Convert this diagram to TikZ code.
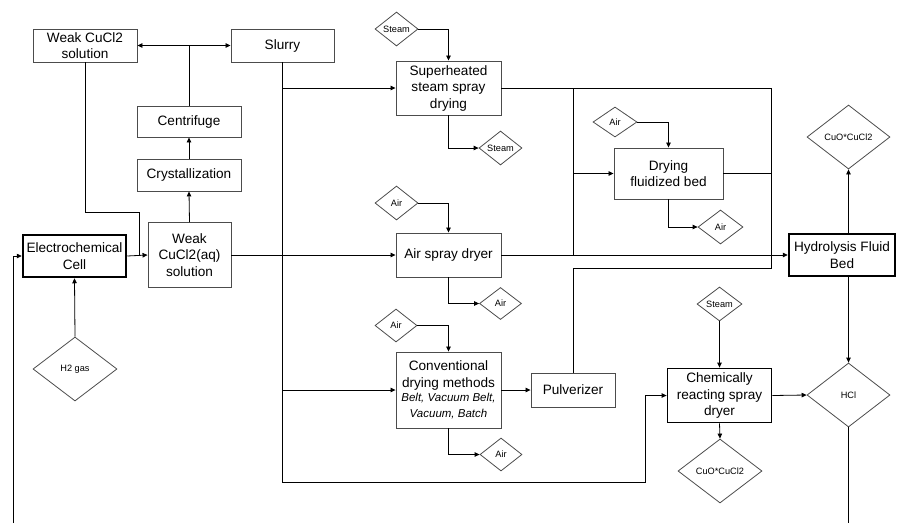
\documentclass[tikz,border=0pt]{standalone}
\usepackage{fontspec}
\setmainfont{Liberation Sans}
\usetikzlibrary{shapes.geometric,arrows.meta}

\newcommand{\boxfont}{\fontsize{13.6}{16.5}\selectfont}
\newcommand{\tagfont}{\fontsize{9.2}{11}\selectfont}
\newcommand{\smallit}[1]{\textit{\fontsize{11.5}{16}\selectfont #1}}

\tikzset{
  procbox/.style={draw=black!70, line width=0.9pt, rectangle, align=center,
    inner sep=1pt, font=\boxfont},
  keybox/.style={procbox, draw=black, line width=2.5pt},
  tagdiamond/.style={draw=black!70, line width=0.8pt, diamond, aspect=1.3,
    inner sep=0pt, font=\tagfont},
  flow/.style={draw=black, line width=0.8pt, -{Triangle[length=5pt,width=4.5pt]}},
  pipe/.style={draw=black, line width=0.8pt}
}

\begin{document}
\begin{tikzpicture}[x=1pt,y=-1pt]
\useasboundingbox (0,0) rectangle (897,523);

\node[procbox, minimum width=104, minimum height=33] (wsol) at (85,45.5) {Weak CuCl2\\[-1pt]solution};
\node[procbox, minimum width=103, minimum height=33] (slurry) at (282.5,45.5) {Slurry};
\node[procbox, minimum width=104, minimum height=31] (centr) at (189,121.5) {Centrifuge};
\node[procbox, minimum width=104, minimum height=32] (cryst) at (189,175) {Crystallization};
\node[procbox, minimum width=83, minimum height=65] (waq) at (189.5,255) {Weak\\CuCl2(aq)\\solution};
\node[keybox, minimum width=103, minimum height=42] (ecell) at (74.5,256) {Electrochemical\\Cell};
\node[tagdiamond, minimum width=84, minimum height=64] (h2) at (75,369) {H2 gas};

\node[procbox, minimum width=105, minimum height=54] (sh) at (448.5,88) {Superheated\\steam spray\\drying};
\node[tagdiamond, minimum width=43, minimum height=34] (steamA) at (396.5,29) {Steam};
\node[tagdiamond, minimum width=43, minimum height=34] (steamB) at (500.5,148) {Steam};

\node[procbox, minimum width=105, minimum height=44] (asd) at (448.5,255) {Air spray dryer};
\node[tagdiamond, minimum width=43, minimum height=34] (airA) at (396.5,203) {Air};
\node[tagdiamond, minimum width=42, minimum height=32] (airB) at (500.5,303.5) {Air};

\node[procbox, minimum width=105, minimum height=76] (conv) at (448.5,390) {Conventional\\drying methods\\[-2pt]\smallit{Belt, Vacuum Belt,}\\[-1pt]\smallit{Vacuum, Batch}};
\node[tagdiamond, minimum width=42, minimum height=33] (airC) at (396,325.5) {Air};
\node[tagdiamond, minimum width=42, minimum height=33] (airD) at (501,454.5) {Air};
\node[procbox, minimum width=84, minimum height=34] (pulv) at (573,390) {Pulverizer};

\node[procbox, minimum width=109, minimum height=51] (dfb) at (668.5,173.5) {Drying\\fluidized bed};
\node[tagdiamond, minimum width=44, minimum height=30] (airE) at (615,122) {Air};
\node[tagdiamond, minimum width=45, minimum height=34] (airF) at (720.5,227) {Air};

\node[keybox, minimum width=106, minimum height=42] (hyd) at (842,255) {Hydrolysis Fluid\\Bed};
\node[tagdiamond, minimum width=83, minimum height=64] (cuoA) at (848.5,137) {CuO*CuCl2};
\node[tagdiamond, minimum width=83, minimum height=64] (hcl) at (848.5,395) {HCl};

\node[procbox, draw=black, line width=1.8pt, minimum width=104, minimum height=54] (crsd) at (719.5,395.5) {Chemically\\reacting spray\\dryer};
\node[tagdiamond, minimum width=45, minimum height=34] (steamC) at (719.5,304) {Steam};
\node[tagdiamond, minimum width=84, minimum height=64] (cuoB) at (720,471) {CuO*CuCl2};

\coordinate (j1) at (139,212);
\coordinate (cj) at (189,45.5);
\coordinate (s1) at (282.5,482);
\coordinate (s2) at (645,482);
\coordinate (l1) at (573,88);
\coordinate (l2) at (573,255);
\coordinate (r1) at (771,88);
\coordinate (r2) at (771,268);
\coordinate (fb) at (13,523);
\coordinate (hb) at (848.5,523);

% crystallizer loop
\draw[pipe] (wsol.south) |- (j1) -- (j1 |- waq.west);
\draw[flow] (ecell.east) -- (waq.west);
\draw[flow] (waq.north) -- (cryst.south);
\draw[flow] (cryst.north) -- (centr.south);
\draw[pipe] (centr.north) -- (cj);
\draw[flow] (cj) -- (wsol.east);
\draw[flow] (cj) -- (slurry.west);
\draw[flow] (h2.north) -- (ecell.south);
\draw[flow] (fb) |- (ecell.west);

% slurry to the dryers
\draw[flow] (slurry.south) -- (s1) -- (s2) |- (crsd.west);
\draw[flow] (slurry.south |- sh.west) -- (sh.west);
\draw[flow] (slurry.south |- conv.west) -- (conv.west);
\draw[flow] (waq.east) -- (asd.west);

\draw[flow] (steamA.east) -| (sh.north);
\draw[flow] (sh.south) |- (steamB.west);
\draw[flow] (airA.east) -| (asd.north);
\draw[flow] (asd.south) |- (airB.west);
\draw[flow] (airC.east) -| (conv.north);
\draw[flow] (conv.south) |- (airD.west);
\draw[flow] (conv.east) -- (pulv.west);

% fluidized bed
\draw[pipe] (sh.east) -- (r1) -- (r2) -| (pulv.north);
\draw[pipe] (l1) -- (l2);
\draw[flow] (l1 |- dfb.west) -- (dfb.west);
\draw[pipe] (dfb.east) -- (r1 |- dfb.east);
\draw[flow] (airE.east) -| (dfb.north);
\draw[flow] (dfb.south) |- (airF.west);

% hydrolysis
\draw[flow] (asd.east) -- (hyd.west);
\draw[flow] (cuoA.south |- hyd.north) -- (cuoA.south);
\draw[flow] (hcl.north |- hyd.south) -- (hcl.north);
\draw[pipe] (hcl.south) -- (hb);
\draw[flow] (steamC.south) -- (crsd.north);
\draw[flow] (crsd.south) -- (cuoB.north);
\draw[flow] (crsd.east) -- (hcl.west);
\end{tikzpicture}
\end{document}
